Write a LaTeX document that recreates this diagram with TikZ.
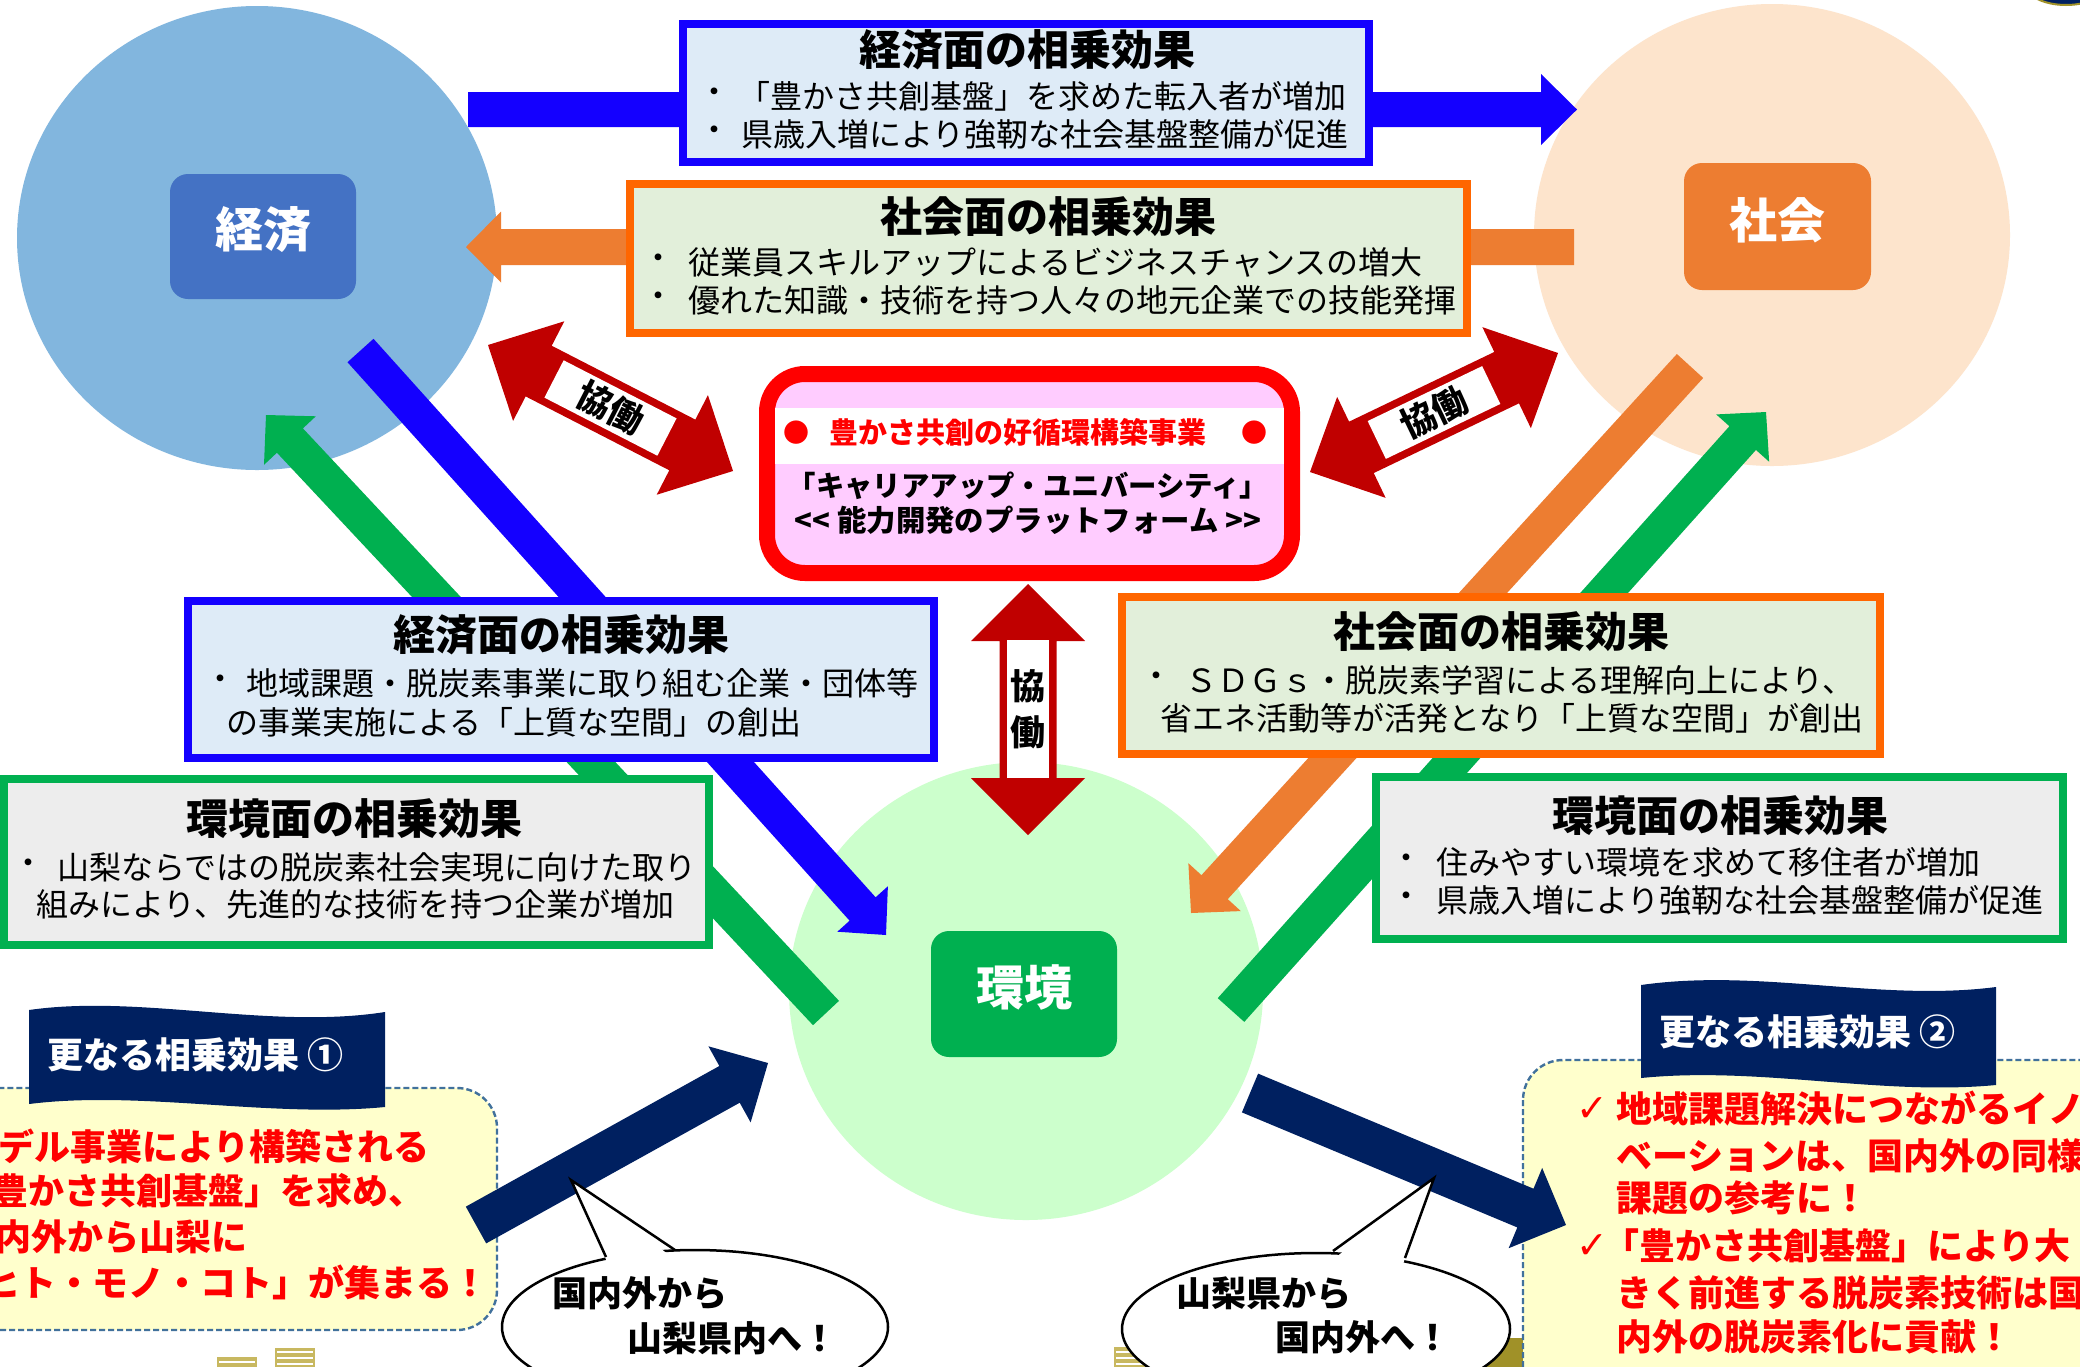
\documentclass[tikz,border=0pt]{standalone}
\usepackage{fontspec}
\setmainfont{Noto Sans CJK JP}
\newfontfamily\dejavu{DejaVu Sans}
\usetikzlibrary{calc,shapes.geometric}
\definecolor{ellblue}{RGB}{130,182,222}
\definecolor{keizaibox}{RGB}{68,114,196}
\definecolor{ellpeach}{RGB}{253,228,204}
\definecolor{shakaibox}{RGB}{237,125,49}
\definecolor{ellgreen}{RGB}{204,255,204}
\definecolor{kankyobox}{RGB}{0,176,80}
\definecolor{arrblue}{RGB}{20,0,255}
\definecolor{bordorange}{RGB}{255,102,0}
\definecolor{arrorange}{RGB}{237,125,49}
\definecolor{fillblue}{RGB}{222,235,247}
\definecolor{fillgreenl}{RGB}{226,239,218}
\definecolor{fillgray}{RGB}{237,237,237}
\definecolor{arrgreen}{RGB}{0,176,80}
\definecolor{darkred}{RGB}{192,0,0}
\definecolor{pinkfill}{RGB}{255,204,255}
\definecolor{navy}{RGB}{0,32,96}
\definecolor{paleyellow}{RGB}{255,255,204}
\definecolor{dashblue}{RGB}{65,113,156}
\definecolor{olivec}{RGB}{160,145,40}
\definecolor{bldg}{RGB}{200,184,96}
\newcommand{\myblockarrow}[6]{%
  \path ($(#3)!#6!(#2)$) coordinate (bah);
  \fill[#1] ($(#2)!#4!90:(#3)$) -- ($(bah)!#4!90:(#3)$) -- ($(bah)!#5!90:(#3)$) -- (#3) -- ($(bah)!#5!-90:(#3)$) -- ($(bah)!#4!-90:(#3)$) -- ($(#2)!#4!-90:(#3)$) -- cycle;}
\newcommand{\mydblarrow}[6]{%
  \path ($(#2)!#6!(#3)$) coordinate (dah1) ($(#3)!#6!(#2)$) coordinate (dah2);
  \fill[#1] (#2) -- ($(dah1)!#5!90:(#3)$) -- ($(dah1)!#4!90:(#3)$) -- ($(dah2)!#4!-90:(#2)$) -- ($(dah2)!#5!-90:(#2)$) -- (#3) -- ($(dah2)!#5!90:(#2)$) -- ($(dah2)!#4!90:(#2)$) -- ($(dah1)!#4!-90:(#3)$) -- ($(dah1)!#5!-90:(#3)$) -- cycle;}
\begin{document}
\begin{tikzpicture}[x=0.5pt,y=-0.5pt,
  body/.style={inner sep=0pt, font=\fontsize{16}{18}\selectfont},
  bodyw/.style={body, anchor=west},
  ttl/.style={inner sep=0pt, font=\bfseries\fontsize{21}{24}\selectfont},
  lbl/.style={inner sep=0pt, text=white, font=\bfseries\fontsize{24}{28}\selectfont},
  lblbox/.style={rounded corners=9pt, inner sep=0pt},
  kyodo/.style={font=\bfseries\fontsize{17.5}{23}\selectfont},
  redtxt/.style={inner sep=0pt, anchor=west, text=red, font=\bfseries\fontsize{18}{22}\selectfont},
  bubtxt/.style={inner sep=0pt, anchor=west, font=\bfseries\fontsize{17.5}{20}\selectfont},
  bantxt/.style={inner sep=0pt, anchor=west, text=white, font=\bfseries\fontsize{18}{22}\selectfont},
  effbox/.style={line width=4pt, inner sep=0pt},
  bubble/.style={ellipse, draw=black, line width=1.25pt, fill=white, inner sep=0pt},
  yelbox/.style={draw=dashblue, dash pattern=on 3pt off 1.5pt, line width=1.2pt, fill=paleyellow, rounded corners=20pt}]
\useasboundingbox (0,0) rectangle (2080,1366);
\clip (0,0) rectangle (2080,1366);
\fill[white] (0,0) rectangle (2080,1366);

% ellipses
\node (ekei) [ellipse, fill=ellblue, minimum width=240pt, minimum height=232pt, inner sep=0pt] at (257,238) {};
\node (esha) [ellipse, fill=ellpeach, minimum width=238pt, minimum height=231pt, inner sep=0pt] at (1772,235) {};
\node (ekan) [ellipse, fill=ellgreen, minimum width=237pt, minimum height=229pt, inner sep=0pt] at (1026,991) {};
\draw[olivec, fill=navy, line width=1pt] (2066,-15) ellipse [x radius=40, y radius=20];

% bottom decorations
\fill[bldg] (217,1357) rectangle (257,1372);
\fill[bldg] (275,1348) rectangle (315,1372);
\fill[bldg] (1114,1347) rectangle (1150,1372);
\foreach \yy in {1352,1358,1364}{\draw[white, line width=0.6pt] (277,\yy) -- (313,\yy); \draw[white, line width=0.6pt] (1116,\yy) -- (1148,\yy);}
\draw[white, line width=0.6pt] (219,1362) -- (255,1362);
\fill[olivec] (1449,1370) -- (1492,1338) -- (1560,1338) -- (1560,1370) -- cycle;

% yellow boxes
\draw[yelbox] (-40,1088) rectangle (497,1330);
\draw[yelbox] (1523,1060) rectangle (2140,1440);

% label boxes
\node (keizaibox) [lblbox, fill=keizaibox, minimum width=93pt, minimum height=62.5pt] at (263,236.5) {};
\node (keizai) [lbl] at (263,230) {経済};
\node (shakaibox) [lblbox, fill=shakaibox, minimum width=93.5pt, minimum height=63.5pt] at (1777.5,226.5) {};
\node (shakai) [lbl] at (1777,220) {社会};
\node (kankyobox) [lblbox, fill=kankyobox, minimum width=93pt, minimum height=63pt] at (1024,994) {};
\node (kankyo) [lbl] at (1024,987) {環境};

% top arrows
\coordinate (tbA) at (468,109.5); \coordinate (tbB) at (1577,109.5);
\myblockarrow{arrblue}{tbA}{tbB}{8.75pt}{17.75pt}{18pt}
\coordinate (toA) at (1574,247); \coordinate (toB) at (466,247);
\myblockarrow{arrorange}{toA}{toB}{9pt}{17.75pt}{17.5pt}

% top boxes
\node (topblue) [effbox, draw=arrblue, fill=fillblue, minimum width=343pt, minimum height=69pt] at (1026,93) {};
\node (tb-t) [ttl] at (1027,50) {経済面の相乗効果};
\node (tb-b1) [body] at (714,96) {・};
\node (tb-l1) [bodyw] at (738,96) {「豊かさ共創基盤」を求めた転入者が増加};
\node (tb-b2) [body] at (714,134) {・};
\node (tb-l2) [bodyw] at (741,134) {県歳入増により強靭な社会基盤整備が促進};

\node (toporange) [effbox, draw=bordorange, fill=fillgreenl, minimum width=418.5pt, minimum height=74.5pt] at (1048.5,258.5) {};
\node (to-t) [ttl] at (1048,217) {社会面の相乗効果};
\node (to-b1) [body] at (658,262) {・};
\node (to-l1) [bodyw] at (688,262) {従業員スキルアップによるビジネスチャンスの増大};
\node (to-b2) [body] at (658,300) {・};
\node (to-l2) [bodyw] at (688,300) {優れた知識・技術を持つ人々の地元企業での技能発揮};

% diagonal arrows
\coordinate (dbA) at (360.5,350.5); \coordinate (dbB) at (886,935);
\myblockarrow{arrblue}{dbA}{dbB}{8.75pt}{17pt}{17.5pt}
\coordinate (dgA) at (826,1013); \coordinate (dgB) at (266,415);
\myblockarrow{arrgreen}{dgA}{dgB}{8.9pt}{17.75pt}{17.5pt}
\coordinate (doA) at (1690,366); \coordinate (doB) at (1191,913);
\myblockarrow{arrorange}{doA}{doB}{8.9pt}{17.75pt}{17.5pt}
\coordinate (dhA) at (1231,1010); \coordinate (dhB) at (1766,412);
\myblockarrow{arrgreen}{dhA}{dhB}{8.9pt}{17.75pt}{17.5pt}

% middle boxes
\node (midblue) [effbox, draw=arrblue, fill=fillblue, minimum width=373pt, minimum height=78.5pt] at (561,679.5) {};
\node (mb-t) [ttl] at (561,635) {経済面の相乗効果};
\node (mb-b1) [body] at (220,683) {・};
\node (mb-l1) [bodyw] at (246,683) {地域課題・脱炭素事業に取り組む企業・団体等};
\node (mb-l2) [bodyw] at (226,722) {の事業実施による「上質な空間」の創出};

\node (leftgreen) [effbox, draw=arrgreen, fill=fillgray, minimum width=352.5pt, minimum height=83pt] at (356.5,862) {};
\node (lg-t) [ttl] at (354,819) {環境面の相乗効果};
\node (lg-b1) [body] at (28,867) {・};
\node (lg-l1) [bodyw] at (57,867) {山梨ならではの脱炭素社会実現に向けた取り};
\node (lg-l2) [bodyw] at (36,904) {組みにより、先進的な技術を持つ企業が増加};

\node (midorange) [effbox, draw=bordorange, fill=fillgreenl, minimum width=379pt, minimum height=78.5pt] at (1501,675.5) {};
\node (mo-t) [ttl] at (1501,632) {社会面の相乗効果};
\node (mo-b1) [body] at (1156,680) {・};
\node (mo-l1) [bodyw] at (1185,680) {ＳＤＧｓ・脱炭素学習による理解向上により、};
\node (mo-l2) [bodyw] at (1160,718) {省エネ活動等が活発となり「上質な空間」が創出};

\node (rightgreen) [effbox, draw=arrgreen, fill=fillgray, minimum width=343.5pt, minimum height=81pt] at (1719.5,858) {};
\node (rg-t) [ttl] at (1720,816) {環境面の相乗効果};
\node (rg-b1) [body] at (1406,862) {・};
\node (rg-l1) [bodyw] at (1436,862) {住みやすい環境を求めて移住者が増加};
\node (rg-b2) [body] at (1406,900) {・};
\node (rg-l2) [bodyw] at (1436,900) {県歳入増により強靭な社会基盤整備が促進};

% center box
\node (center) [draw=red, line width=8pt, fill=pinkfill, rounded corners=19pt, minimum width=262.5pt, minimum height=99.5pt, inner sep=0pt] at (1029.5,473.5) {};
\fill[white] (775,408) rectangle (1284,464);
\node (c-d1) [inner sep=0pt, text=red, font=\fontsize{13}{15}\selectfont] at (796,433) {●};
\node (c-d2) [inner sep=0pt, text=red, font=\fontsize{13}{15}\selectfont] at (1254,433) {●};
\node (c-t) [inner sep=0pt, text=red, font=\bfseries\fontsize{14.5}{17}\selectfont] at (1018,432) {豊かさ共創の好循環構築事業};
\node (c-l1) [inner sep=0pt, font=\bfseries\fontsize{14.2}{16}\selectfont] at (1028,486) {「キャリアアップ・ユニバーシティ」};
\node (c-l2) [inner sep=0pt, font=\bfseries\fontsize{14.7}{16}\selectfont] at (1028,520) {<\kern0pt< 能力開発のプラットフォーム >\kern0pt>};

% red double arrows
\coordinate (kl1) at (488,345); \coordinate (kl2) at (733,471);
\mydblarrow{darkred}{kl1}{kl2}{14.25pt}{28pt}{28.5pt}
\path (kl1) -- node (kl-w) [sloped, fill=white, minimum width=63.5pt, minimum height=21pt, inner sep=0pt, kyodo] {協働} (kl2);
\coordinate (kr1) at (1310,472); \coordinate (kr2) at (1558,353);
\mydblarrow{darkred}{kr1}{kr2}{14.25pt}{28pt}{28.5pt}
\path (kr1) -- node (kr-w) [sloped, fill=white, minimum width=63.5pt, minimum height=21pt, inner sep=0pt, kyodo] {協働} (kr2);
\coordinate (kv1) at (1028,584); \coordinate (kv2) at (1028,835);
\mydblarrow{darkred}{kv1}{kv2}{14.25pt}{28.5pt}{28.5pt}
\node (kv-w) [fill=white, minimum width=21pt, minimum height=69pt, inner sep=0pt, align=center, kyodo] at (1028,709) {協\\働};

% navy arrows
\coordinate (nlA) at (476,1225); \coordinate (nlB) at (768,1063);
\myblockarrow{navy}{nlA}{nlB}{10.5pt}{21.75pt}{22pt}
\coordinate (nrA) at (1250,1093); \coordinate (nrB) at (1566,1225);
\myblockarrow{navy}{nrA}{nrB}{10.5pt}{21.75pt}{22pt}

% speech bubbles
\node (bubL) [bubble, minimum width=193pt, minimum height=77pt] at (695,1327) {};
\coordinate (bubLtip) at (571,1180);
\fill[white] (608,1264) -- (bubLtip) -- (673,1258) -- cycle;
\draw[line width=1.25pt, line join=miter] (606,1257) -- (bubLtip) -- (675,1250);
\node (bubL1) [bubtxt] at (552,1293) {国内外から};
\node (bubL2) [bubtxt] at (627,1338) {山梨県内へ！};

\node (bubR) [bubble, minimum width=194pt, minimum height=76pt] at (1316,1329) {};
\coordinate (bubRtip) at (1434,1178);
\fill[white] (1335,1258) -- (bubRtip) -- (1403,1264) -- cycle;
\draw[line width=1.25pt, line join=miter] (1333,1251) -- (bubRtip) -- (1405,1258);
\node (bubR1) [bubtxt] at (1176,1293) {山梨県から};
\node (bubR2) [bubtxt] at (1275,1337) {国内外へ！};

% banners
\fill[navy] (29,1010) .. controls (140,994) and (270,1030) .. (385,1012) -- (385,1107) .. controls (270,1118) and (140,1090) .. (29,1104) -- cycle;
\node (ban1) [bantxt] at (47,1055) {更なる相乗効果 ①};
\fill[navy] (1641,985) .. controls (1760,968) and (1880,1002) .. (1996,987) -- (1996,1085) .. controls (1880,1096) and (1760,1066) .. (1641,1078) -- cycle;
\node (ban2) [bantxt] at (1659,1032) {更なる相乗効果 ②};

% yellow box texts
\node (yl1) [redtxt] at (-2,1146) {デル事業により構築される};
\node (yl2) [redtxt] at (-8,1191) {豊かさ共創基盤」を求め、};
\node (yl3) [redtxt] at (-5,1237) {内外から山梨に};
\node (yl4) [redtxt] at (-16,1282) {ヒト・モノ・コト」が集まる！};

\node (yrc1) [inner sep=0pt, text=red, font=\dejavu\bfseries\fontsize{19}{22}\selectfont] at (1592,1110) {✓};
\node (yr1) [redtxt] at (1616,1109) {地域課題解決につながるイノ};
\node (yr2) [redtxt] at (1616,1156) {ベーションは、国内外の同様};
\node (yr3) [redtxt] at (1616,1198) {課題の参考に！};
\node (yrc2) [inner sep=0pt, text=red, font=\dejavu\bfseries\fontsize{19}{22}\selectfont] at (1592,1247) {✓};
\node (yr4) [redtxt] at (1603,1246) {「豊かさ共創基盤」により大};
\node (yr5) [redtxt] at (1616,1293) {きく前進する脱炭素技術は国};
\node (yr6) [redtxt] at (1616,1337) {内外の脱炭素化に貢献！};
\end{tikzpicture}
\end{document}
